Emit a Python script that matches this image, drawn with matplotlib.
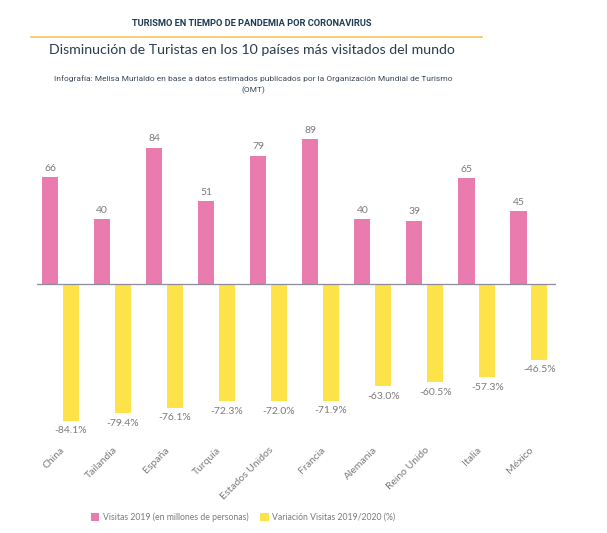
import matplotlib
matplotlib.use("Agg")
import matplotlib.pyplot as plt
import numpy as np

categories = ["China", "Tailandia", "España", "Turquía", "Estados Unidos",
              "Francia", "Alemania", "Reino Unido", "Italia", "México"]
visitas_2019 = [66, 40, 84, 51, 79, 89, 40, 39, 65, 45]
variacion = [-84.1, -79.4, -76.1, -72.3, -72.0, -71.9, -63.0, -60.5, -57.3, -46.5]

series_names = ["Visitas 2019 (en millones de personas)", "Variación Visitas 2019/2020 (%)"]

PINK = "#EA7BAF"
YELLOW = "#FDE24A"
GRAY = "#7a7a7a"

W, H = 607, 533
fig = plt.figure(figsize=(W / 100, H / 100), dpi=100)
fig.patch.set_facecolor("white")

# Header texts
fig.text(252 / W, 1 - 24 / H, "TURISMO EN TIEMPO DE PANDEMIA POR CORONAVIRUS",
         ha="center", va="center", fontsize=6.7, fontweight="bold",
         family="Roboto", color="#1d3a55")
fig.add_artist(plt.Line2D([31 / W, 482 / W], [1 - 37 / H, 1 - 37 / H],
                          color="#F5C55A", lw=1.2, transform=fig.transFigure))
fig.text(252 / W, 1 - 50 / H, "Disminución de Turistas en los 10 países más visitados del mundo",
         ha="center", va="center", fontsize=10.2, family="Lato", color="#2a3b4c")
fig.text(253 / W, 1 - 79 / H,
         "Infografía: Melisa Murialdo en base a datos estimados publicados por la Organización Mundial de Turismo",
         ha="center", va="center", fontsize=6.0, family="Roboto", color="#3c4a58")
fig.text(253 / W, 1 - 90 / H, "(OMT)",
         ha="center", va="center", fontsize=6.0, family="Roboto", color="#3c4a58")

# Axes
top_px, bot_px, base_px = 130, 440, 284
scale = 1.625
left_px, right_px = 37, 556
ax = fig.add_axes([left_px / W, 1 - bot_px / H, (right_px - left_px) / W, (bot_px - top_px) / H])
ax.set_ylim(-(bot_px - base_px) / scale, (base_px - top_px) / scale)
ax.set_xlim(-0.45, 9.52)

x = np.arange(len(categories))
bw = 0.31
off = 0.2
b1 = ax.bar(x - off, visitas_2019, width=bw, color=PINK, label=series_names[0], zorder=2)
b2 = ax.bar(x + off, variacion, width=bw, color=YELLOW, label=series_names[1], zorder=2)

for xi, v in zip(x, visitas_2019):
    ax.annotate(f"{v}", (xi - off, v), xytext=(0, 3), textcoords="offset points",
                ha="center", va="bottom", fontsize=7.5, family="Lato", color=GRAY)
for xi, v in zip(x, variacion):
    ax.annotate(f"{v:.1f}%", (xi + off, v), xytext=(0, -4), textcoords="offset points",
                ha="center", va="top", fontsize=7.5, family="Lato", color=GRAY)

ax.axhline(0, color="#8c8c9c", lw=0.9, zorder=3)
for s in ax.spines.values():
    s.set_visible(False)
ax.set_yticks([])
ax.set_xticks(x)
ax.set_xticklabels(categories, rotation=45, ha="right", rotation_mode="anchor",
                   fontsize=7.5, family="Lato", color=GRAY)
ax.tick_params(axis="x", length=0, pad=4)
ax.set_facecolor("none")

leg = fig.legend(handles=[b1, b2], labels=series_names, loc="center",
                 bbox_to_anchor=(243 / W, 1 - 517 / H), ncol=2, frameon=False,
                 prop={"family": "Lato", "size": 6.2}, handlelength=1.0, handleheight=1.0,
                 handletextpad=0.4, columnspacing=1.4)
for t in leg.get_texts():
    t.set_color(GRAY)

fig.savefig("out.png", dpi=100, facecolor="white")
